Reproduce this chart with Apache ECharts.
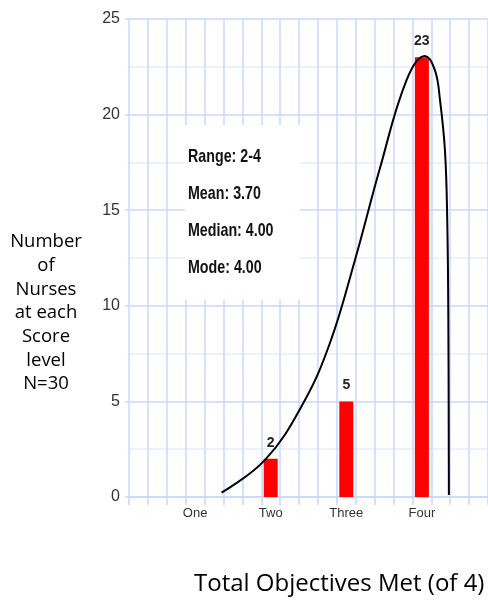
<!DOCTYPE html>
<html>
<head>
<meta charset="utf-8">
<script src="https://cdn.jsdelivr.net/npm/echarts@6/dist/echarts.min.js"></script>
<style>
  html, body { margin: 0; padding: 0; background: #fff; }
  #chart { width: 488px; height: 602px; }
</style>
</head>
<body>
<div id="chart"></div>
<script>
// 分数等级与人数
const categories = ["One", "Two", "Three", "Four"];
const nurseCounts = [0, 2, 5, 23];
const yTicks = [0, 5, 10, 15, 20, 25];
// 统计信息
const statLines = ["Range: 2-4", "Mean: 3.70", "Median: 4.00", "Mode: 4.00"];
// 手绘曲线 (x 按网格格数, y 按人数)
const curveX = [4.9, 7.2, 9.22, 10.63, 11.96, 13.28, 14.69, 15.66, 16.19, 16.46, 16.72, 16.84, 16.9, 16.93];
const curveY = [0.23, 1.94, 4.9, 8.04, 12.4, 17.19, 21.8, 23.06, 22.33, 20.76, 18.15, 14.66, 9.43, 0.1];

// 横轴共 19 格, 第一个分类在第 4 格, 每隔 4 格一个
const slotCount = 19;
const firstSlot = 3;
const slotStep = 4;
const slotNames = [];
const barData = [];
for (let i = 0; i < slotCount; i++) {
  slotNames.push("");
  barData.push("-");
}
categories.forEach(function (name, i) {
  slotNames[firstSlot + i * slotStep] = name;
  barData[firstSlot + i * slotStep] = nurseCounts[i] === 0 ? "-" : nurseCounts[i];
});
const curveData = curveX.map(function (x, i) {
  return [x, curveY[i]];
});

const gridBlue = "#c9d8fc";
const labelFont = "'Liberation Sans', Arial, sans-serif";

let myChart = echarts.init(document.getElementById("chart"));
let option = {
  animation: false,
  backgroundColor: "#fff",
  grid: {
    left: 129,
    right: 0,
    top: 19,
    bottom: 105,
    containLabel: false,
  },
  xAxis: [
    {
      type: "category",
      data: slotNames,
      boundaryGap: true,
      axisLine: { show: true, lineStyle: { color: gridBlue, width: 1.5 } },
      axisTick: { show: true, interval: 0, length: 8, lineStyle: { color: gridBlue, width: 1.5 } },
      splitLine: { show: true, interval: 0, lineStyle: { color: gridBlue, width: 1.5 } },
      axisLabel: {
        interval: 0,
        margin: 10,
        color: "#333",
        fontSize: 13,
        fontFamily: labelFont,
      },
    },
    {
      type: "value",
      min: 0,
      max: slotCount,
      show: false,
    },
  ],
  yAxis: {
    type: "value",
    min: 0,
    max: yTicks[yTicks.length - 1],
    interval: yTicks[1] - yTicks[0],
    axisLine: { show: false },
    axisTick: { show: true, length: 4, lineStyle: { color: gridBlue, width: 1.5 } },
    axisLabel: { color: "#333", fontSize: 16, fontFamily: labelFont, margin: 9 },
    splitLine: { show: true, lineStyle: { color: gridBlue, width: 1.5 } },
    minorTick: { show: false, splitNumber: 2 },
    minorSplitLine: { show: true, lineStyle: { color: "#e6edfd", width: 1.5 } },
  },
  graphic: [
    {
      type: "rect",
      shape: { x: 185, y: 125, width: 115, height: 175 },
      style: { fill: "#fff" },
      z: 5,
    },
  ].concat(
    statLines.map(function (t, i) {
      return {
        type: "text",
        x: 188,
        y: 157 + i * 37,
        scaleX: 0.75,
        z: 6,
        style: {
          text: t,
          fill: "#111",
          font: "bold 19px 'Liberation Sans', sans-serif",
          verticalAlign: "middle",
        },
      };
    }),
    [
      {
        type: "text",
        x: 46,
        y: 230,
        style: {
          text: "Number\nof\nNurses\nat each\nScore\nlevel\nN=30",
          fill: "#000",
          font: "18.5px 'Open Sans', sans-serif",
          lineHeight: 23.7,
          align: "center",
          verticalAlign: "top",
        },
      },
      {
        type: "text",
        x: 194,
        y: 584,
        style: {
          text: "Total Objectives Met (of 4)",
          fill: "#000",
          font: "24px 'Open Sans', sans-serif",
          verticalAlign: "middle",
        },
      },
    ]
  ),
  series: [
    {
      type: "bar",
      data: barData,
      barWidth: 14,
      itemStyle: { color: "#ff0000" },
      label: {
        show: true,
        position: "top",
        distance: 9,
        color: "#222",
        fontWeight: "bold",
        fontSize: 14,
        fontFamily: labelFont,
      },
      z: 3,
    },
    {
      type: "line",
      xAxisIndex: 1,
      data: curveData,
      smooth: 0.4,
      symbol: "none",
      lineStyle: { color: "#000", width: 2 },
      z: 8,
    },
  ],
};
option && myChart.setOption(option);
</script>
</body>
</html>
